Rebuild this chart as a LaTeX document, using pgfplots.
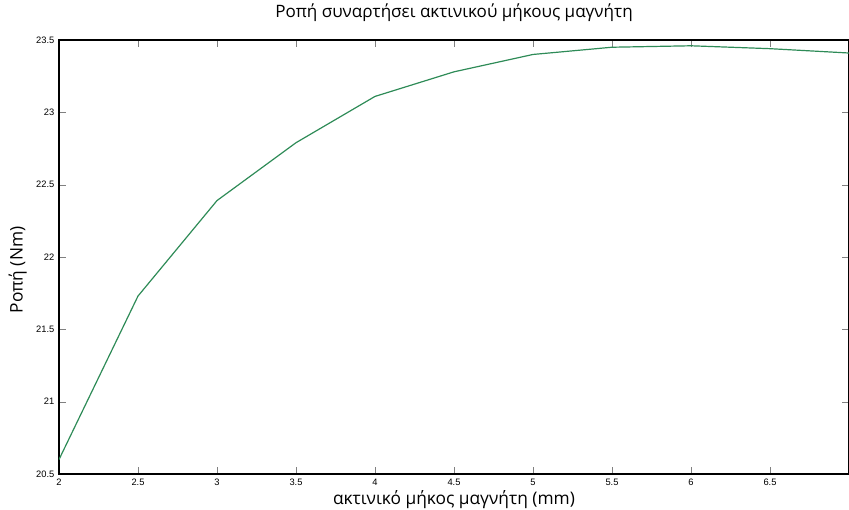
\documentclass[border=0pt]{standalone}
\usepackage{fontspec}
\setmainfont{Open Sans}
\newfontfamily\tickfont{Liberation Sans}
\usepackage{pgfplots}
\pgfplotsset{compat=1.18}
\definecolor{linegreen}{RGB}{46,139,87}

\pgfplotstableread{
x   y
2.0 20.60
2.5 21.73
3.0 22.39
3.5 22.79
4.0 23.11
4.5 23.28
5.0 23.40
5.5 23.45
6.0 23.46
6.5 23.44
7.0 23.41
}\ropedata

\begin{document}
\begin{tikzpicture}
\begin{axis}[scale only axis,width=592.5pt,height=325.5pt,
xmin=2,xmax=7,ymin=20.5,ymax=23.5,
xtick={2,2.5,3,3.5,4,4.5,5,5.5,6,6.5},
ytick={20.5,21,21.5,22,22.5,23,23.5},
tick align=inside,tick pos=both,major tick length=5pt,
axis line style={line width=0.9pt},
/pgf/number format/assume math mode=true,
ticklabel style={font=\tickfont\fontsize{7}{8}\selectfont},
title={Ροπή συναρτήσει ακτινικού μήκους μαγνήτη},
title style={font=\fontsize{12.8}{15}\selectfont,at={(0.5,1)},anchor=base,yshift=11pt},
xlabel={ακτινικό μήκος μαγνήτη (mm)},
xlabel style={font=\fontsize{13}{15}\selectfont,at={(0.5,0)},anchor=base,yshift=-23pt},
ylabel={Ροπή (Nm)},
ylabel style={font=\fontsize{13}{15}\selectfont,at={(0,0.47)},anchor=center,yshift=31pt}]
\addplot[color=linegreen,line width=0.9pt,no marks] table[x=x,y=y] {\ropedata};
\coordinate (ll) at (rel axis cs:0,0);
\coordinate (ur) at (rel axis cs:1,1);
\end{axis}
\pgfresetboundingbox
\path ([shift={(-44.25pt,-27pt)}]ll) rectangle ([shift={(0pt,30pt)}]ur);
\end{tikzpicture}
\end{document}
